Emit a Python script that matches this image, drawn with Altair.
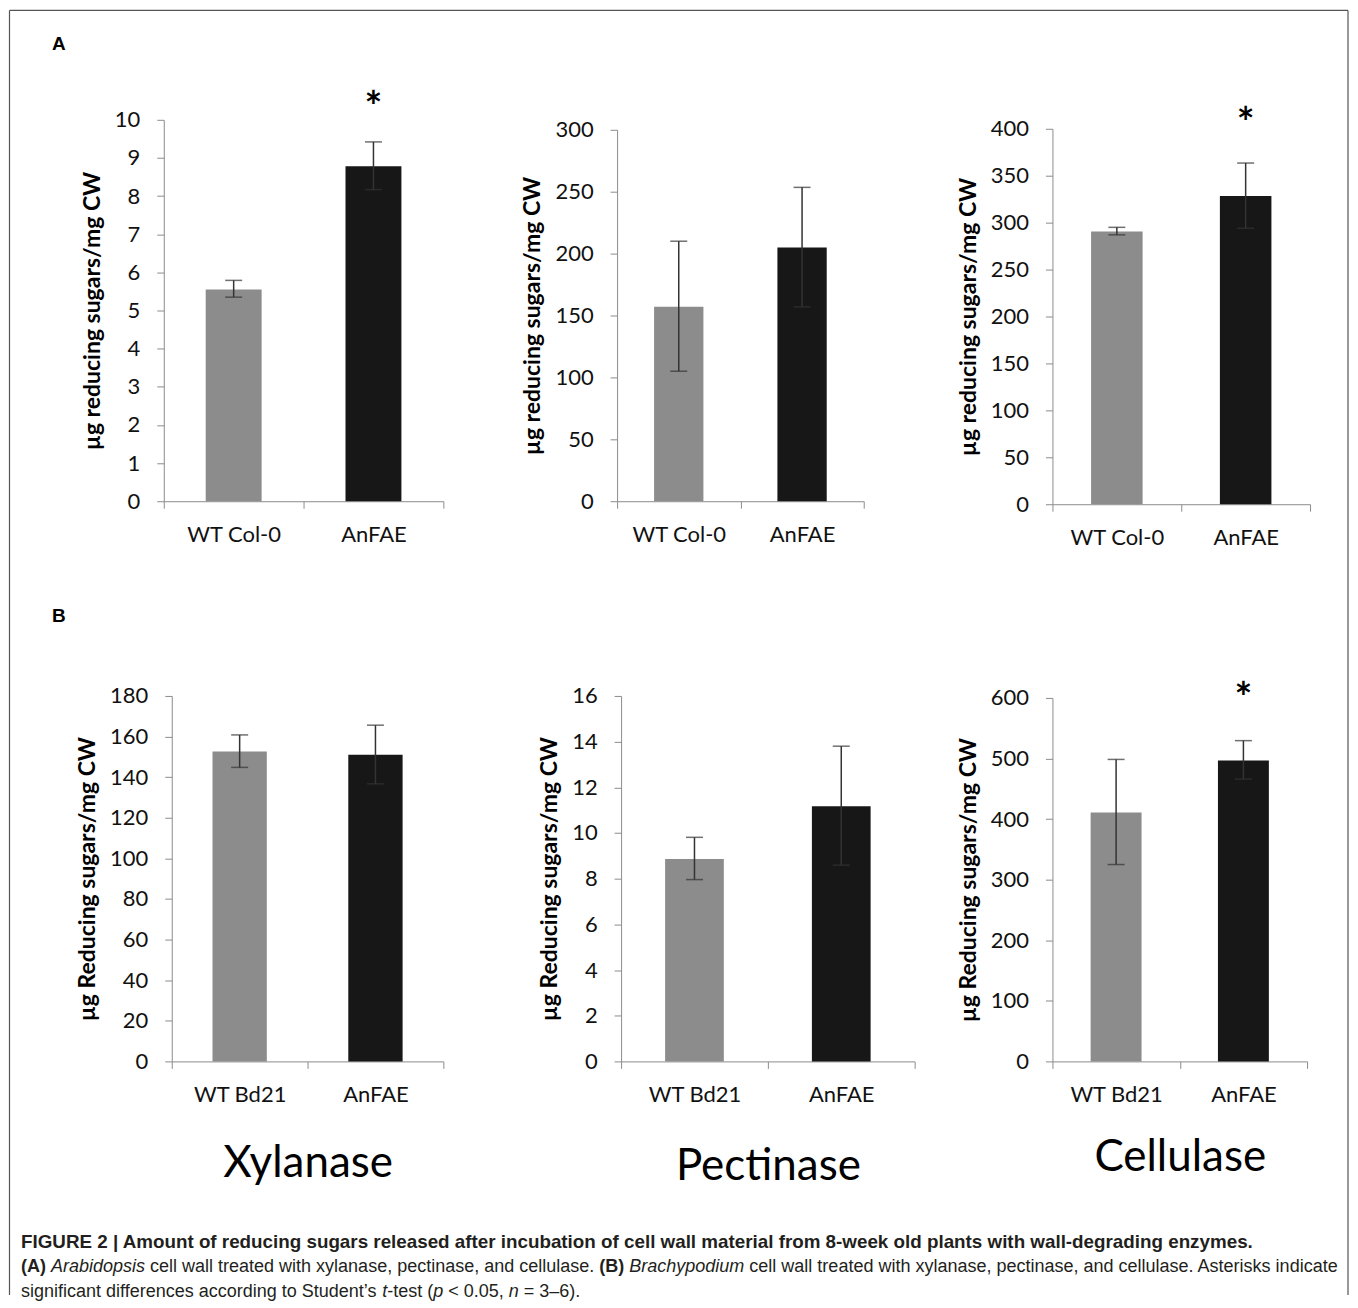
import altair as alt
import pandas as pd

# ---------------- data ----------------
cats_a = ["WT Col-0", "AnFAE"]
cats_b = ["WT Bd21", "AnFAE"]
enzymes = ["Xylanase", "Pectinase", "Cellulase"]
ytitle_a = "µg reducing sugars/mg CW"
ytitle_b = "µg Reducing sugars/mg CW"

# Row A: Arabidopsis
xyl_a_mean = [5.55, 8.78]
xyl_a_lo = [5.35, 8.17]
xyl_a_hi = [5.79, 9.42]
xyl_a_star = [None, 10.57]
xyl_a_ticks = [0, 1, 2, 3, 4, 5, 6, 7, 8, 9, 10]

pec_a_mean = [157.0, 205.0]
pec_a_lo = [105.0, 157.0]
pec_a_hi = [210.0, 253.5]
pec_a_star = [None, None]
pec_a_ticks = [0, 50, 100, 150, 200, 250, 300]

cel_a_mean = [290.5, 328.5]
cel_a_lo = [287.0, 294.0]
cel_a_hi = [295.0, 363.5]
cel_a_star = [None, 416.0]
cel_a_ticks = [0, 50, 100, 150, 200, 250, 300, 350, 400]

# Row B: Brachypodium
xyl_b_mean = [152.6, 151.0]
xyl_b_lo = [144.8, 136.7]
xyl_b_hi = [160.8, 165.6]
xyl_b_star = [None, None]
xyl_b_ticks = [0, 20, 40, 60, 80, 100, 120, 140, 160, 180]

pec_b_mean = [8.86, 11.17]
pec_b_lo = [7.96, 8.59]
pec_b_hi = [9.81, 13.80]
pec_b_star = [None, None]
pec_b_ticks = [0, 2, 4, 6, 8, 10, 12, 14, 16]

cel_b_mean = [411.0, 496.7]
cel_b_lo = [325.0, 466.0]
cel_b_hi = [498.5, 529.5]
cel_b_star = [None, 614.0]
cel_b_ticks = [0, 100, 200, 300, 400, 500, 600]

caption_title = ("FIGURE 2 | Amount of reducing sugars released after incubation of cell wall "
                 "material from 8-week old plants with wall-degrading enzymes.")
caption_line2 = [
    ("(A)", "bold"), (" ", "normal"), ("Arabidopsis", "italic"),
    (" cell wall treated with xylanase, pectinase, and cellulase. ", "normal"),
    ("(B)", "bold"), (" ", "normal"), ("Brachypodium", "italic"),
    (" cell wall treated with xylanase, pectinase, and cellulase. Asterisks indicate", "normal"),
]
caption_line3 = [
    ("significant differences according to Student\u2019s ", "normal"), ("t", "italic"),
    ("-test (", "normal"), ("p", "italic"), (" < 0.05, ", "normal"), ("n", "italic"),
    (" = 3\u20136).", "normal"),
]

# ---------------- styling ----------------
FONT = "Lato"
CAPFONT = "Liberation Sans"
AX = "#8c8c8c"
TXT = "#111111"
GRAY = "#8c8c8c"
BLACK = "#171717"
ERR = "#333333"

# Helvetica / Arial advance widths (1/1000 em) used to lay out caption runs
_w = dict(a=556, b=556, c=500, d=556, e=556, f=278, g=556, h=556, i=222, j=222, k=500,
          l=222, m=833, n=556, o=556, p=556, q=556, r=333, s=500, t=278, u=556, v=500,
          w=722, x=500, y=500, z=500,
          A=667, B=667, C=722, D=722, E=667, F=611, G=778, H=722, I=278, J=500, K=667,
          L=556, M=833, N=722, O=778, P=667, Q=778, R=722, S=667, T=611, U=722, V=667,
          W=944, X=667, Y=667, Z=611)
_w.update({" ": 278, "(": 333, ")": 333, ",": 278, ".": 278, "-": 333, "<": 584,
           "=": 584, "\u2019": 222, "'": 191, "\u2013": 556})
for _d in "0123456789":
    _w[_d] = 556
_wb = {"(": 333, ")": 333, "A": 722, "B": 722, " ": 278}


def run_width(text, style, fs):
    table = _wb if style == "bold" else _w
    return sum(table.get(ch, 556) for ch in text) * fs / 1000.0


def panel(cats, mean, lo, hi, star, ticks, ytitle, w, h, yrange, xrange,
          yoff=0, xtitle=None, xtitle_y=0, extra=()):
    df = pd.DataFrame({"cat": cats, "mean": mean, "lo": lo, "hi": hi})
    xkw = dict(labelAngle=0, labelFont=FONT, labelFontSize=22, labelColor=TXT,
               labelPadding=16, tickBand="extent", tickSize=7, tickColor=AX,
               tickWidth=1, domainColor=AX, domainWidth=1)
    if xtitle:
        xkw.update(title=xtitle, titleFont=FONT, titleFontSize=44, titleFontWeight="normal",
                   titleColor="#000000", titleY=xtitle_y, titleBaseline="alphabetic")
    else:
        xkw.update(title=None)
    xaxis = alt.Axis(**xkw)
    xscale = alt.Scale(domain=cats, range=xrange, paddingInner=0, paddingOuter=0)
    yscale = alt.Scale(domain=[ticks[0], ticks[-1]], range=yrange, nice=False)
    yaxis = alt.Axis(values=ticks, title=ytitle, grid=False, offset=yoff,
                     labelFont=FONT, labelFontSize=22, labelColor=TXT, labelPadding=17,
                     tickSize=7, tickColor=AX, tickWidth=1, domainColor=AX, domainWidth=1,
                     titleFont=FONT, titleFontSize=23, titleFontWeight="bold",
                     titleColor="#000000", titlePadding=10)
    X = alt.X("cat:N", scale=xscale, axis=xaxis)
    base = alt.Chart(df)
    bars = base.mark_bar(width={"band": 0.4}).encode(
        x=X,
        y=alt.Y("mean:Q", scale=yscale, axis=yaxis),
        color=alt.Color("cat:N", scale=alt.Scale(domain=cats, range=[GRAY, BLACK]), legend=None),
    )
    err = base.mark_rule(color=ERR, strokeWidth=1.5).encode(
        x=X, y=alt.Y("lo:Q", scale=yscale, axis=yaxis), y2="hi:Q")
    cap_lo = base.mark_tick(color=ERR, thickness=1.5, size=17).encode(
        x=X, y=alt.Y("lo:Q", scale=yscale, axis=yaxis))
    cap_hi = base.mark_tick(color=ERR, thickness=1.5, size=17).encode(
        x=X, y=alt.Y("hi:Q", scale=yscale, axis=yaxis))
    layers = [bars, err, cap_lo, cap_hi]
    sdf = pd.DataFrame({"cat": [c for c, s in zip(cats, star) if s is not None],
                        "sy": [s for s in star if s is not None]})
    if len(sdf):
        stars = alt.Chart(sdf).mark_text(text="*", font=FONT, fontSize=42, fontWeight="bold",
                                         baseline="alphabetic", dy=24, color="#000000").encode(
            x=X, y=alt.Y("sy:Q", scale=yscale, axis=yaxis))
        layers.append(stars)
    layers.extend(extra)
    return alt.layer(*layers).properties(width=w, height=h)


def letter(t, x, y):
    return alt.Chart(pd.DataFrame({"t": [t]})).mark_text(
        font=CAPFONT, fontSize=19, fontWeight="bold", align="center", baseline="middle",
        color="#000000").encode(x=alt.value(x), y=alt.value(y), text="t:N")


# column widths: 444, 426, 258 ; column spacing 10 ; row spacing 192
A1 = panel(cats_a, xyl_a_mean, xyl_a_lo, xyl_a_hi, xyl_a_star, xyl_a_ticks, ytitle_a,
           444, 390, [390, 8], [0, 280], extra=[letter("A", -105, -67.5)])
A2 = panel(cats_a, pec_a_mean, pec_a_lo, pec_a_hi, pec_a_star, pec_a_ticks, ytitle_a,
           426, 390, [390, 18], [0, 247])
A3 = panel(cats_a, cel_a_mean, cel_a_lo, cel_a_hi, cel_a_star, cel_a_ticks, ytitle_a,
           258, 393, [393, 17], [0, 258])
B1 = panel(cats_b, xyl_b_mean, xyl_b_lo, xyl_b_hi, xyl_b_star, xyl_b_ticks, ytitle_b,
           444, 366, [366, 0], [8, 280], yoff=-8, xtitle=enzymes[0], xtitle_y=115,
           extra=[letter("B", -105, -80)])
B2 = panel(cats_b, pec_b_mean, pec_b_lo, pec_b_hi, pec_b_star, pec_b_ticks, ytitle_b,
           426, 366, [366, 0], [4, 298], yoff=-4, xtitle=enzymes[1], xtitle_y=118)
B3 = panel(cats_b, cel_b_mean, cel_b_lo, cel_b_hi, cel_b_star, cel_b_ticks, ytitle_b,
           258, 366, [366, 2], [0, 255], xtitle=enzymes[2], xtitle_y=109)

# ---------------- caption + frame cell ----------------
x0 = -143.0
fs = 1320.0 / (sum(run_width(t, s, 1000) for t, s in caption_line2) / 1000.0)
fs = round(fs, 2)
fs_title = round(fs * 1.045, 2)

rows = []
rows.append(dict(x=x0, y=-11.0, text=caption_title, style="title"))
for yline, segs in ((14.0, caption_line2), (39.0, caption_line3)):
    cx = x0
    for t, s in segs:
        stripped = t.strip()
        if stripped:
            lead = t[: len(t) - len(t.lstrip())]
            rows.append(dict(x=cx + run_width(lead, "normal", fs), y=yline,
                             text=stripped, style=s))
        cx += run_width(t, s, fs)
cap_df = pd.DataFrame(rows)

cap_layers = []
for style in ["title", "normal", "bold", "italic"]:
    sub = cap_df[cap_df["style"] == style]
    kw = dict(align="left", baseline="middle", font=CAPFONT, fontSize=fs, color="#231f20")
    if style in ("bold", "title"):
        kw["fontWeight"] = "bold"
    if style == "title":
        kw["fontSize"] = fs_title
    if style == "italic":
        kw["fontStyle"] = "italic"
    cap_layers.append(alt.Chart(sub).mark_text(**kw).encode(
        x=alt.X("x:Q", scale=None), y=alt.Y("y:Q", scale=None), text="text:N"))

one = pd.DataFrame({"k": [0]})
FR = "#555555"
left_edge, top_edge, right_edge, bottom_edge = -154.5, -1244.5, 1186.0, 42.0
frame = [
    alt.Chart(one).mark_rule(color=FR, strokeWidth=1.2).encode(
        x=alt.value(left_edge), y=alt.value(top_edge), y2=alt.value(bottom_edge)),
    alt.Chart(one).mark_rule(color=FR, strokeWidth=1.2).encode(
        x=alt.value(right_edge), y=alt.value(top_edge), y2=alt.value(bottom_edge)),
    alt.Chart(one).mark_rule(color=FR, strokeWidth=1.2).encode(
        x=alt.value(left_edge), x2=alt.value(right_edge), y=alt.value(top_edge)),
]
CAP = alt.layer(*cap_layers, *frame).properties(width=444, height=20)

chart = alt.concat(
    A1, A2, A3, B1, B2, B3, CAP,
    columns=3, spacing={"row": 192, "column": 10}, bounds="flush", align="each",
).properties(padding=0, background="white").configure_view(stroke="transparent")

chart.save("out.html", embed_options={"renderer": "svg", "actions": False})
